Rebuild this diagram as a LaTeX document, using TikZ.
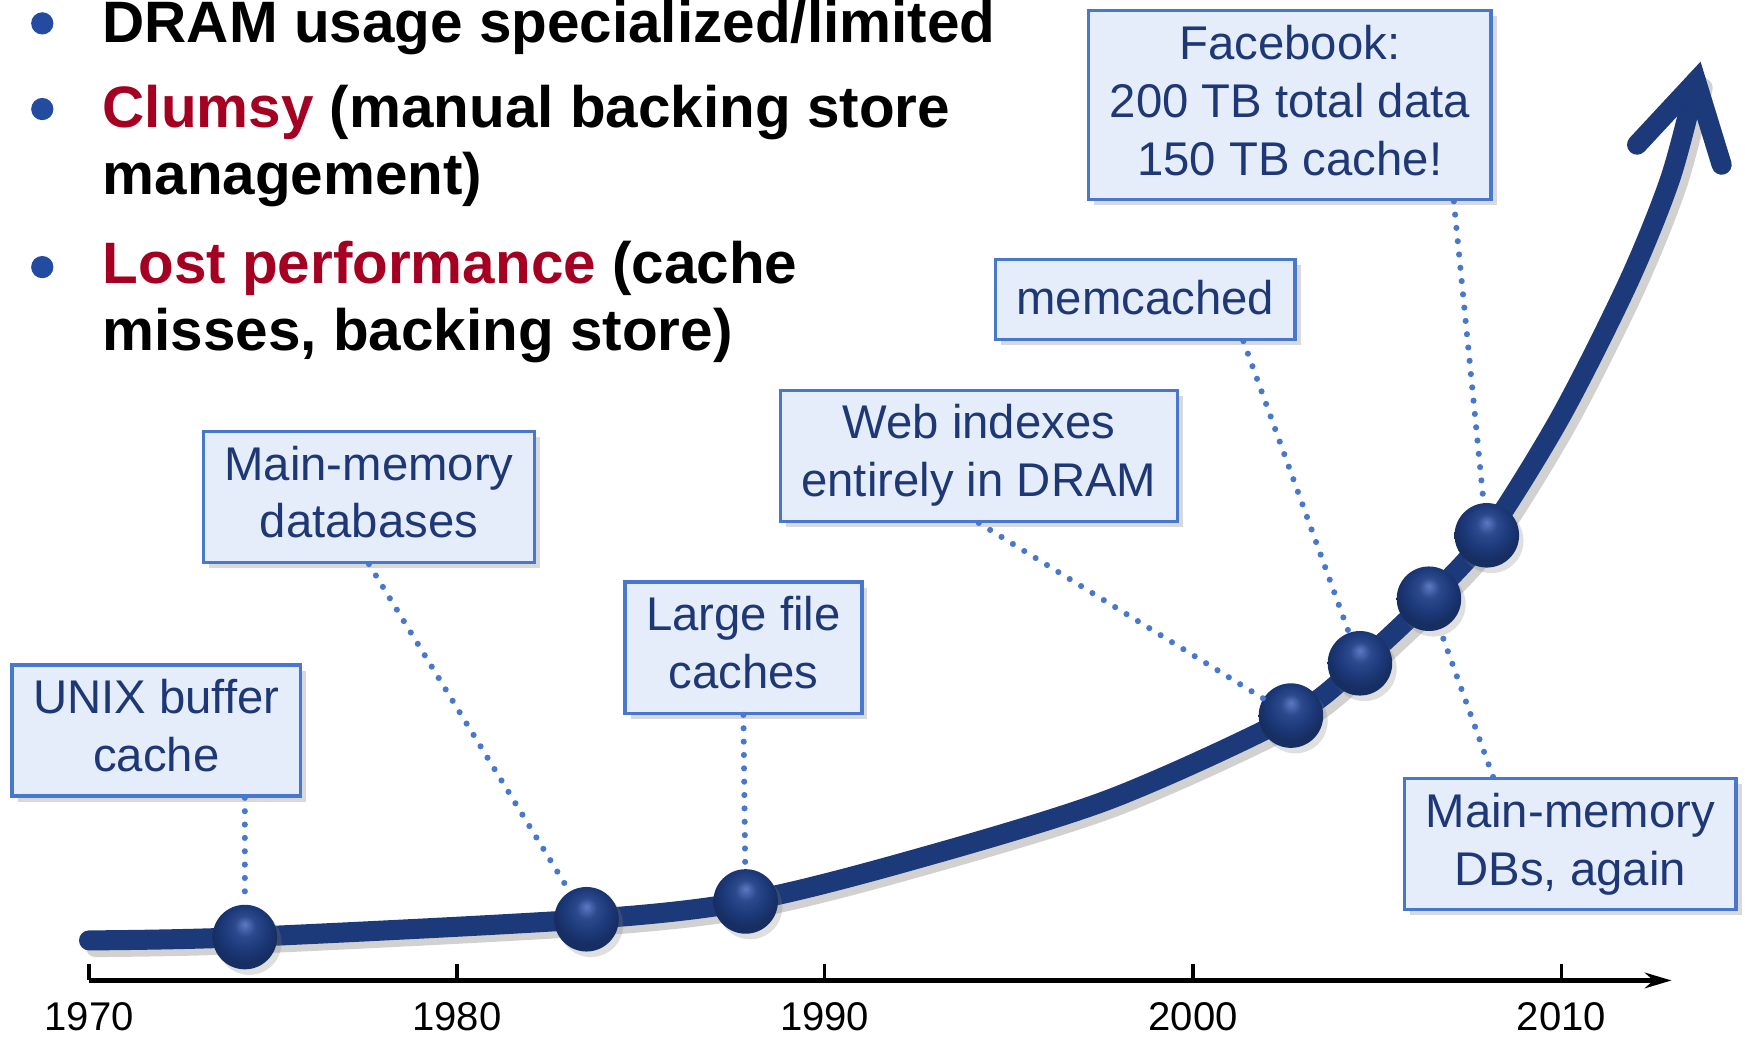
\documentclass[tikz,border=0pt]{standalone}
\usepackage{fontspec}
\setmainfont{Liberation Sans}
\usetikzlibrary{arrows.meta}
\usetikzlibrary{shadows}
\definecolor{navy}{RGB}{28,57,122}
\definecolor{ballhi}{RGB}{92,122,196}
\definecolor{boxline}{RGB}{72,120,205}
\definecolor{boxfill}{RGB}{230,237,250}
\definecolor{boxtext}{RGB}{30,56,118}
\definecolor{hot}{RGB}{165,0,33}
\definecolor{bulletblue}{RGB}{35,75,160}
\colorlet{lead-color}{boxline}
\colorlet{curve-color}{navy}
\pgfdeclareradialshading{stoneball}{\pgfpoint{0bp}{10bp}}{color(0bp)=(ballhi); color(8bp)=(navy!75!ballhi); color(17bp)=(navy); color(25bp)=(navy!80!black); color(50bp)=(navy!80!black)}
\tikzset{
    event/.style={draw=boxline, fill=boxfill, line width=3pt, text=boxtext,
        font=\fontsize{42.5}{52}\selectfont, align=center, inner xsep=19pt, inner ysep=13pt,
        execute at begin node={\rule{0pt}{37pt}}, execute at end node={\rule[-9pt]{0pt}{9pt}},
        drop shadow={shadow xshift=5pt, shadow yshift=-5pt, opacity=0.3}},
    stone/.style={circle, minimum size=58pt, inner sep=0pt, shading=stoneball,
        drop shadow={shadow xshift=4pt, shadow yshift=-5pt, opacity=0.25}},
    leader/.style={lead-color, line width=5.5pt, line cap=round, dash pattern=on 0pt off 12pt},
    curve/.style={curve-color, line width=18pt, line cap=round},
    bullettext/.style={font=\fontsize{52.5}{60}\selectfont\bfseries, align=left, anchor=base west, inner sep=0pt},
    year/.style={font=\fontsize{36}{40}\selectfont, anchor=base, inner sep=0pt},
    axis/.style={line width=4pt, -{Stealth[length=24pt,width=14pt]}},
    tick/.style={line width=3pt}
}
\newcommand{\stone}[2]{\node[stone] (#1) at (#2){};}
\newcommand{\trend}{plot[smooth] coordinates {(80,845) (220,842) (527,826) (670,810) (812,775) (995,719) (1160,644) (1222,596) (1284,538) (1336,481) (1402,375) (1463,254) (1501,160) (1524,73)}}

\begin{document}
\begin{tikzpicture}[x=1pt,y=-1pt]
    \useasboundingbox (0,0) rectangle (1568,931);
    % bullets (base anchor sits on the last line)
    \foreach \y in {21,98,240} \fill[bulletblue] (38,\y) circle (10pt);
    \node[bullettext] (pt1) at (92,38) {DRAM usage specialized/limited};
    \node[bullettext] (pt2) at (92,175) {\textcolor{hot}{Clumsy} (manual backing store\\management)};
    \node[bullettext] (pt3) at (92,315) {\textcolor{hot}{Lost performance} (cache\\misses, backing store)};
    % time axis
    \coordinate (t0) at (80,881);
    \coordinate (t1) at (1502,881);
    \draw[axis] (t0) -- (t1);
    \foreach \x/\yr in {80/1970,410.5/1980,741/1990,1072/2000,1403/2010}{
        \draw[tick] (\x,866) -- (\x,881);
        \node[year] (yr\yr) at (\x,926) {\yr};
    }
    % growth curve
    \draw[curve, black, opacity=0.18, xshift=6pt, yshift=-6pt] \trend;
    \draw[curve] \trend;
    \coordinate (tip) at (1524,73);
    \coordinate (armL) at (1471,130);
    \coordinate (armR) at (1547,148);
    \draw[curve, black, opacity=0.18, xshift=6pt, yshift=-6pt, line join=miter] (armL) -- (tip) -- (armR);
    \draw[curve, line join=miter] (armL) -- (tip) -- (armR);
    % milestones
    \stone{d1}{220,842};
    \stone{d2}{527,826};
    \stone{d3}{670,810};
    \stone{d4}{1160,643};
    \stone{d5}{1222,596};
    \stone{d6}{1284,538};
    \stone{d7}{1336,481};
    % labels
    \node[event] (unix) at (140.5,656.5) {UNIX buffer\\cache};
    \node[event] (mmdb) at (331.5,446.5) {Main-memory\\databases};
    \node[event] (filecache) at (668,582) {Large file\\caches};
    \node[event] (webidx) at (879.5,409.5) {Web indexes\\entirely in DRAM};
    \node[event] (memcd) at (1029,269) {memcached};
    \node[event] (fb) at (1159,94.5) {Facebook:\\200 TB total data\\150 TB cache!};
    \node[event] (mmdb2) at (1411,758.5) {Main-memory\\DBs, again};
    % leaders
    \draw[leader] (unix.south -| d1) -- (d1);
    \draw[leader] (mmdb.south) -- (d2);
    \draw[leader] (filecache.south) -- (d3);
    \draw[leader] (webidx.south) -- (d4);
    \draw[leader] ([xshift=-48pt]memcd.south east) -- (d5);
    \draw[leader] ([xshift=-35pt]fb.south east) -- (d7);
    \draw[leader] ([xshift=81pt]mmdb2.north west) -- (d6);
\end{tikzpicture}
\end{document}
